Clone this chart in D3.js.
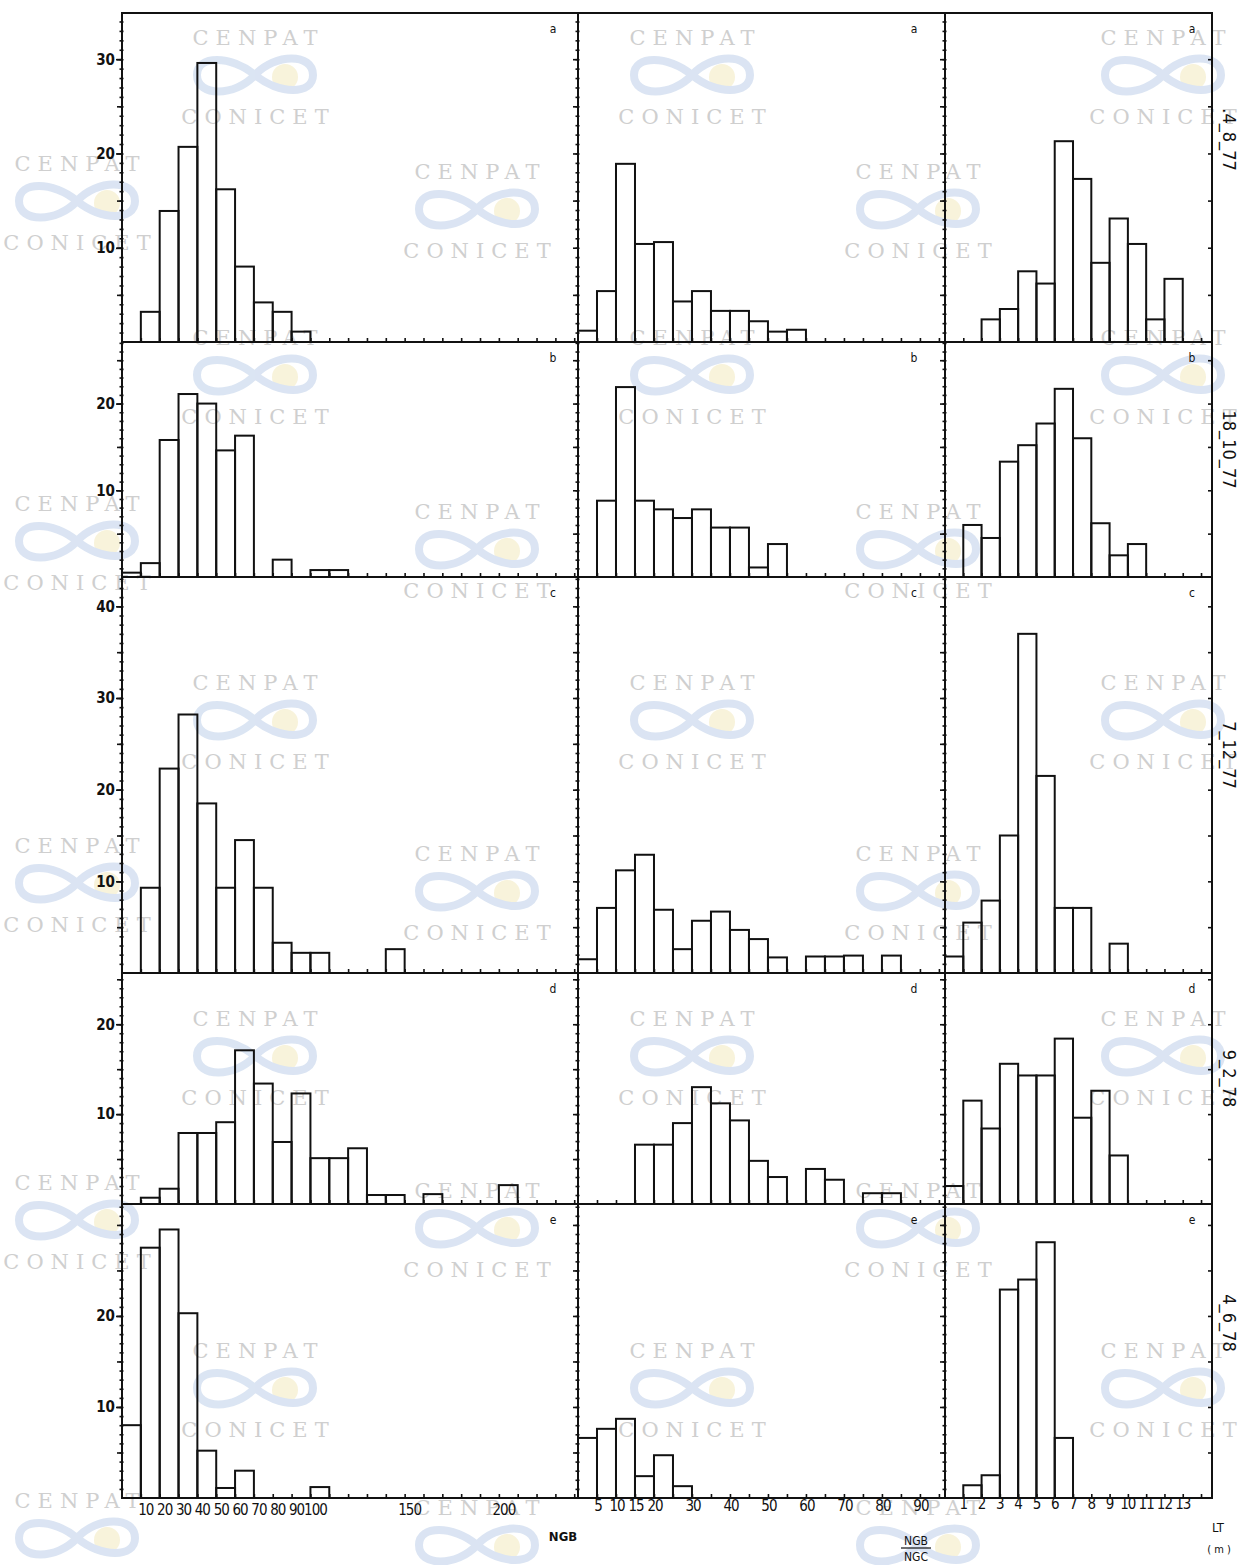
<!DOCTYPE html>
<html>
<head>
<meta charset="utf-8">
<script src="https://cdn.jsdelivr.net/npm/d3@7"></script>
<style>
  body { margin: 0; background: #fff; }
  text { font-family: "DejaVu Sans Condensed", "Liberation Sans Narrow", "DejaVu Sans", sans-serif; fill: #111; }
  .wm text { font-family: "DejaVu Serif", "Liberation Serif", serif; fill: #cfcfcf; font-size: 21px; letter-spacing: 7px; }
</style>
</head>
<body>
<div class="chart"></div>
<script>

// sampling dates, one per row
const dates = [".4_8_77", "18_10_77", "7_12_77", "9_2_78", "4_6_78"];
const letters = ["a", "b", "c", "d", "e"];

// NGB, classes of 10
const ngbA = [0, 3.2, 13.9, 20.7, 29.6, 16.2, 8.0, 4.2, 3.2, 1.1];
const ngbB = [0.5, 1.6, 15.8, 21.1, 20.0, 14.6, 16.3, 0, 2.0, 0, 0.8, 0.8];
const ngbC = [0, 9.3, 22.3, 28.2, 18.5, 9.3, 14.5, 9.3, 3.3, 2.2, 2.2, 0, 0, 0, 2.6];
const ngbD = [0, 0.7, 1.7, 7.9, 7.9, 9.1, 17.1, 13.4, 6.9, 12.3, 5.1, 5.1, 6.2, 1.0, 1.0, 0, 1.1, 0, 0, 0, 2.1];
const ngbE = [8.0, 27.5, 29.5, 20.3, 5.2, 1.1, 3.0, 0, 0, 0, 1.2];

// NGB/NGC, classes of 5
const ratioA = [1.2, 5.4, 18.9, 10.4, 10.6, 4.3, 5.4, 3.3, 3.3, 2.2, 1.1, 1.3];
const ratioB = [0, 8.8, 21.9, 8.8, 7.8, 6.8, 7.8, 5.7, 5.7, 1.1, 3.8];
const ratioC = [1.5, 7.1, 11.2, 12.9, 6.9, 2.6, 5.7, 6.7, 4.7, 3.7, 1.7, 0, 1.8, 1.8, 1.9, 0, 1.9];
const ratioD = [0, 0, 0, 6.6, 6.6, 9.0, 13.0, 11.2, 9.3, 4.8, 3.0, 0, 3.9, 2.7, 0, 1.2, 1.2];
const ratioE = [6.6, 7.6, 8.7, 2.4, 4.7, 1.3];

// LT (m), classes of 1
const ltA = [0, 0, 2.4, 3.5, 7.5, 6.2, 21.3, 17.3, 8.4, 13.1, 10.4, 2.4, 6.7];
const ltB = [0, 6.0, 4.5, 13.3, 15.2, 17.7, 21.7, 16.0, 6.2, 2.5, 3.8];
const ltC = [1.8, 5.5, 7.9, 15.0, 37.0, 21.5, 7.1, 7.1, 0, 3.2];
const ltD = [2.0, 11.5, 8.4, 15.6, 14.3, 14.3, 18.4, 9.6, 12.6, 5.4];
const ltE = [0, 1.4, 2.5, 22.9, 24.0, 28.1, 6.6];

// tick labels
const ngbTicks = [10, 20, 30, 40, 50, 60, 70, 80, 90, 100, 150, 200];
const ratioTicks = [5, 10, 15, 20, 30, 40, 50, 60, 70, 80, 90];
const ltTicks = [1, 2, 3, 4, 5, 6, 7, 8, 9, 10, 11, 12, 13];
const yTicks = [[10, 20, 30], [10, 20], [10, 20, 30, 40], [10, 20], [10, 20]];

const series = [
  [ngbA, ngbB, ngbC, ngbD, ngbE],
  [ratioA, ratioB, ratioC, ratioD, ratioE],
  [ltA, ltB, ltC, ltD, ltE]
];

// panel layout (pixels)
const cols = [
  { x0: 122, x1: 578, max: 242, step: 10, ticks: ngbTicks, labelDx: 5, labelY: 1515, letterDx: -25 },
  { x0: 578, x1: 945, max: 96.6, step: 5, ticks: ratioTicks, labelDx: 1, labelY: 1511, letterDx: -31 },
  { x0: 945, x1: 1212, max: 14.6, step: 1, ticks: ltTicks, labelDx: 0, labelY: 1509, letterDx: -20 }
];
const rows = [
  { y0: 13, y1: 342, max: 34.9 },
  { y0: 342, y1: 577, max: 27.1 },
  { y0: 577, y1: 973, max: 43.2 },
  { y0: 973, y1: 1204, max: 25.7 },
  { y0: 1204, y1: 1498, max: 32.3 }
];

const svg = d3.select(".chart").append("svg")
  .attr("width", 1245)
  .attr("height", 1565);

// watermark of the scan
const wm = svg.append("g").attr("class", "wm");
const wmSpots = [];
[37, 337, 682, 1018, 1350].forEach(y => [255, 692, 1163].forEach(x => wmSpots.push([x, y])));
[[77, 163], [77, 503], [77, 845], [77, 1182], [77, 1500]].forEach(p => wmSpots.push(p));
[171, 511, 853, 1190, 1507].forEach(y => [477, 918].forEach(x => wmSpots.push([x, y])));

wmSpots.forEach(([x, y]) => {
  const g = wm.append("g").attr("transform", `translate(${x},${y})`);
  g.append("text").attr("text-anchor", "middle").attr("dx", 3.5).attr("dy", 8).text("CENPAT");
  const logo = g.append("g").attr("transform", "translate(0,38)").attr("opacity", 0.75);
  logo.append("circle").attr("cx", 30).attr("cy", 2).attr("r", 13).attr("fill", "#f6efcf");
  logo.append("path")
    .attr("d", "M0,0 C20,-22 58,-22 58,0 C58,20 24,20 0,0 C-24,-20 -58,-20 -58,0 C-58,22 -20,22 0,0")
    .attr("fill", "none")
    .attr("stroke", "#cfdcef")
    .attr("stroke-width", 8);
  if (y + 87 < 1565) {
    g.append("text").attr("text-anchor", "middle").attr("dx", 3.5).attr("dy", 87).text("CONICET");
  }
});

const plot = svg.append("g");

cols.forEach((col, ci) => {
  const x = d3.scaleLinear().domain([0, col.max]).range([col.x0, col.x1]);

  rows.forEach((row, ri) => {
    const y = d3.scaleLinear().domain([0, row.max]).range([row.y1, row.y0]);
    const values = series[ci][ri];
    const g = plot.append("g");

    // bars
    g.selectAll("rect.bar")
      .data(values.map((v, i) => ({ lo: i * col.step, v })).filter(d => d.v > 0))
      .join("rect")
      .attr("class", "bar")
      .attr("x", d => x(d.lo))
      .attr("width", d => x(d.lo + col.step) - x(d.lo))
      .attr("y", d => y(d.v))
      .attr("height", d => y(0) - y(d.v))
      .attr("fill", "none")
      .attr("stroke", "#111")
      .attr("stroke-width", 2);

    // frame
    g.append("rect")
      .attr("x", col.x0)
      .attr("y", row.y0)
      .attr("width", col.x1 - col.x0)
      .attr("height", row.y1 - row.y0)
      .attr("fill", "none")
      .attr("stroke", "#111")
      .attr("stroke-width", 2);

    const unit = d3.range(1, row.max, 1);
    const five = d3.range(5, row.max, 5);

    // left axis: small ticks every unit, longer every 5
    g.append("g")
      .attr("transform", `translate(${col.x0},0)`)
      .call(d3.axisLeft(y).tickValues(unit).tickSize(2.5).tickFormat(""))
      .call(s => s.select(".domain").remove());
    g.append("g")
      .attr("transform", `translate(${col.x0},0)`)
      .call(d3.axisRight(y).tickValues(unit).tickSize(1.5).tickFormat(""))
      .call(s => s.select(".domain").remove());
    g.append("g")
      .attr("transform", `translate(${col.x0},0)`)
      .call(d3.axisLeft(y).tickValues(five).tickSize(5).tickFormat(""))
      .call(s => s.select(".domain").remove());

    if (ci === 0) {
      g.append("g")
        .attr("transform", `translate(${col.x0},0)`)
        .call(d3.axisLeft(y).tickValues(yTicks[ri]).tickSize(6).tickPadding(1).tickFormat(d3.format("d")))
        .call(s => s.select(".domain").remove())
        .call(s => s.selectAll("text").style("font-size", "15px").style("font-weight", "bold"));
    }
    if (ci === 2) {
      g.append("g")
        .attr("transform", `translate(${col.x1},0)`)
        .call(d3.axisLeft(y).tickValues(five).tickSize(4).tickFormat(""))
        .call(s => s.select(".domain").remove());
    }

    // base ticks
    g.append("g")
      .attr("transform", `translate(0,${row.y1})`)
      .call(d3.axisTop(x).tickValues(d3.range(col.step, col.max, col.step)).tickSize(4).tickFormat(""))
      .call(s => s.select(".domain").remove());

    g.selectAll(".tick line").attr("stroke", "#111").attr("stroke-width", 1.6);

    // panel letter
    g.append("text")
      .attr("x", col.x1 + col.letterDx)
      .attr("y", row.y0 + 20)
      .attr("text-anchor", "middle")
      .style("font-size", "12px")
      .text(letters[ri]);
  });

  // class labels under the last row
  plot.append("g").selectAll("text")
    .data(col.ticks)
    .join("text")
    .attr("x", d => x(d) + col.labelDx)
    .attr("y", col.labelY)
    .attr("text-anchor", "middle")
    .style("font-size", "15px")
    .style("letter-spacing", "-1px")
    .text(d => d);
});

// dates on the right
plot.append("g").selectAll("text")
  .data(dates)
  .join("text")
  .attr("transform", (d, i) => `translate(1223,${(rows[i].y0 + rows[i].y1) / 2 - [38, 10, 20, 10, 28][i]}) rotate(90)`)
  .attr("text-anchor", "middle")
  .style("font-size", "18px")
  .text(d => d);

// axis titles
plot.append("text").attr("x", 563).attr("y", 1541).attr("text-anchor", "middle")
  .style("font-size", "13px").style("font-weight", "bold").text("NGB");
plot.append("text").attr("x", 916).attr("y", 1545).attr("text-anchor", "middle")
  .style("font-size", "12px").text("NGB");
plot.append("line").attr("x1", 901).attr("x2", 931).attr("y1", 1548).attr("y2", 1548)
  .attr("stroke", "#111").attr("stroke-width", 1.2);
plot.append("text").attr("x", 916).attr("y", 1561).attr("text-anchor", "middle")
  .style("font-size", "12px").text("NGC");
plot.append("text").attr("x", 1218).attr("y", 1532).attr("text-anchor", "middle")
  .style("font-size", "13px").text("LT");
plot.append("text").attr("x", 1219).attr("y", 1553).attr("text-anchor", "middle")
  .style("font-size", "11px").text("( m )");

</script>
</body>
</html>
